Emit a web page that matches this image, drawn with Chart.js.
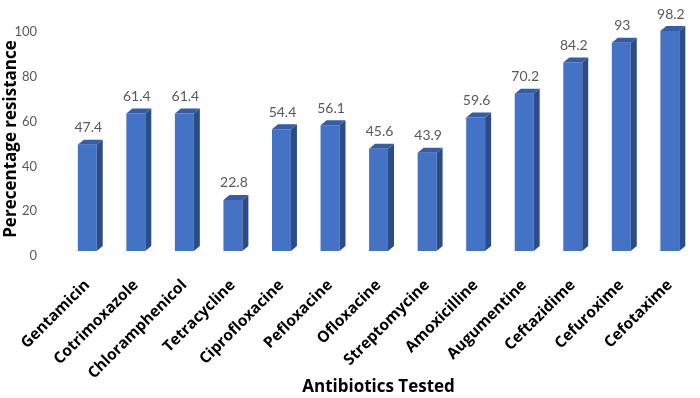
<!DOCTYPE html>
<html>
<head>
<meta charset="utf-8">
<script src="https://cdn.jsdelivr.net/npm/chart.js@4"></script>
<style>
  html, body { margin: 0; padding: 0; background: #fff; }
  #wrap { width: 700px; height: 398px; }
</style>
</head>
<body>
<div id="wrap"><canvas id="myChart"></canvas></div>
<script>
var drugs = ["Gentamicin", "Cotrimoxazole", "Chloramphenicol", "Tetracycline", "Ciprofloxacine",
  "Pefloxacine", "Ofloxacine", "Streptomycine", "Amoxicilline", "Augumentine",
  "Ceftazidime", "Cefuroxime", "Cefotaxime"];
var resistance = [47.4, 61.4, 61.4, 22.8, 54.4, 56.1, 45.6, 43.9, 59.6, 70.2, 84.2, 93, 98.2];
var yTicks = [0, 20, 40, 60, 80, 100];

// fake excel 3d: side + top faces, then the value labels
var bars3d = {
  id: "bars3d",
  afterDatasetsDraw: function(chart) {
    var ctx = chart.ctx;
    var meta = chart.getDatasetMeta(0);
    var dx = 6, dy = 5;
    ctx.save();
    meta.data.forEach(function(bar, i) {
      var half = bar.width / 2;
      var l = bar.x - half, r = bar.x + half;
      var top = bar.y, base = bar.base;
      ctx.fillStyle = "#2c4c87";
      ctx.beginPath();
      ctx.moveTo(r, top);
      ctx.lineTo(r + dx, top - dy);
      ctx.lineTo(r + dx, base - dy);
      ctx.lineTo(r, base);
      ctx.closePath();
      ctx.fill();
      ctx.fillStyle = "#355da6";
      ctx.beginPath();
      ctx.moveTo(l, top);
      ctx.lineTo(l + dx, top - dy);
      ctx.lineTo(r + dx, top - dy);
      ctx.lineTo(r, top);
      ctx.closePath();
      ctx.fill();

      ctx.fillStyle = "#595959";
      ctx.font = "14px Lato";
      ctx.textAlign = "center";
      ctx.textBaseline = "bottom";
      ctx.fillText(String(resistance[i]), bar.x + 1, top - dy - 5);
    });
    ctx.restore();
  }
};

new Chart("myChart", {
  type: "bar",
  data: {
    labels: drugs,
    datasets: [{
      data: resistance,
      backgroundColor: "#4472c4",
      borderWidth: 0,
      barPercentage: 0.39,
      categoryPercentage: 1
    }]
  },
  plugins: [bars3d],
  options: {
    responsive: true,
    maintainAspectRatio: false,
    animation: false,
    layout: {padding: {top: 27, right: 0, bottom: 0, left: 0}},
    plugins: {
      legend: {display: false},
      tooltip: {enabled: false}
    },
    scales: {
      x: {
        grid: {display: false},
        border: {display: false},
        ticks: {
          color: "#000",
          font: {family: "Open Sans", weight: "bold", size: 15.5},
          minRotation: 45,
          maxRotation: 45,
          padding: 17
        },
        title: {
          display: true,
          text: "Antibiotics Tested",
          color: "#000",
          font: {family: "Open Sans", weight: "bold", size: 17},
          padding: {top: 0, bottom: 1}
        },
        afterFit: function(scale) { scale.height = 147; }
      },
      y: {
        min: 0,
        max: 100,
        grid: {display: false},
        border: {display: false},
        afterBuildTicks: function(scale) {
          scale.ticks = yTicks.map(function(v) { return {value: v}; });
        },
        ticks: {
          color: "#595959",
          font: {family: "Lato", size: 13},
          padding: 18,
          labelOffset: 5
        },
        title: {
          display: true,
          text: "Perecentage resistance",
          color: "#000",
          font: {family: "Open Sans", weight: "bold", size: 17},
          padding: {top: 1, bottom: 0}
        },
        afterFit: function(scale) { scale.width = 63; }
      }
    }
  }
});
</script>
</body>
</html>
